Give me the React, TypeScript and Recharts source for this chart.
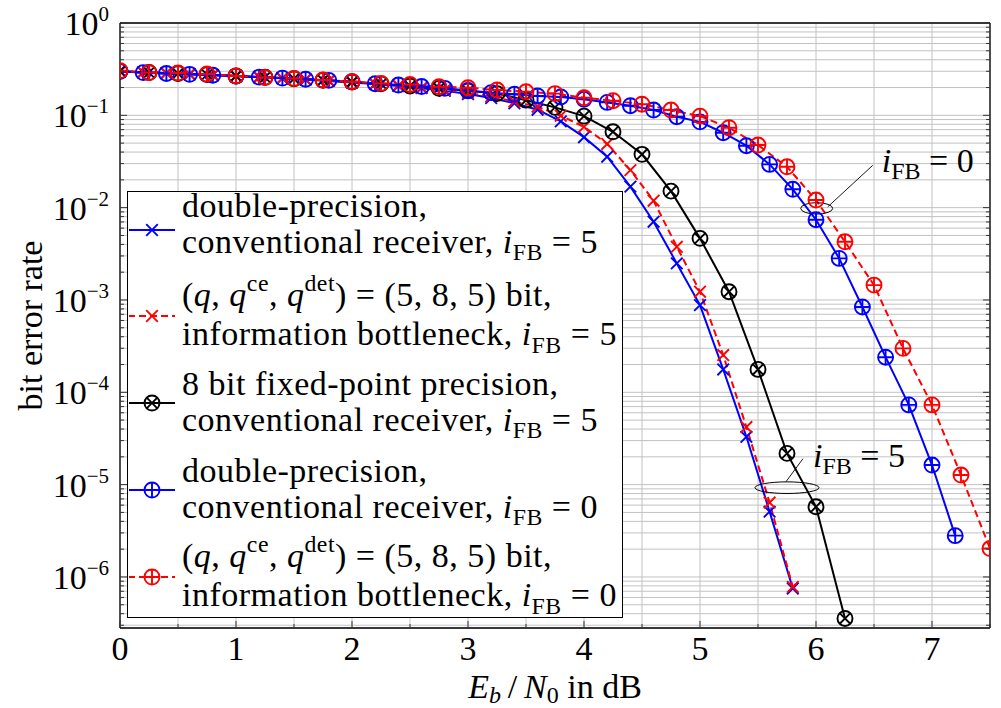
import React from 'react';
import { LineChart, Line, XAxis, YAxis, CartesianGrid, Legend, ReferenceDot } from 'recharts';

const FONT = '"Liberation Serif", "Times New Roman", Times, serif';
const FS = 34;
const BLUE = '#0000ff';
const RED = '#ff0000';
const BLACK = '#000000';
const GRID = '#c2c2c2';

// ---------- axes ----------
const X_TICKS = [0, 0.5, 1, 1.5, 2, 2.5, 3, 3.5, 4, 4.5, 5, 5.5, 6, 6.5, 7, 7.5];
const X_DOMAIN = [0, 7.5];
const Y_DECADES = [-7, -6, -5, -4, -3, -2, -1, 0];
const Y_MANTISSAS = [1, 2, 3, 4, 5, 6, 7, 8, 9];
const Y_MIN = 2.8e-7;
const Y_MAX = 1;
const Y_TICKS = Y_DECADES.flatMap((e) => Y_MANTISSAS.map((m) => m * Math.pow(10, e))).filter(
  (v) => v >= Y_MIN && v <= Y_MAX * 1.000001
);

// ---------- series data ----------
// double-precision, conventional receiver, iFB = 5 (blue, x)
const BX_X = [0, 0.2, 0.4, 0.6, 0.8, 1, 1.2, 1.4, 1.6, 1.8, 2, 2.2, 2.4, 2.6, 2.8, 3, 3.2, 3.4, 3.6, 3.8, 4, 4.2, 4.4, 4.6, 4.8, 5, 5.2, 5.4, 5.6, 5.8];
const BX_Y = [0.3, 0.292, 0.286, 0.279, 0.273, 0.266, 0.259, 0.252, 0.244, 0.236, 0.227, 0.218, 0.208, 0.197, 0.184, 0.17, 0.154, 0.135, 0.115, 0.086, 0.058, 0.0356, 0.0169, 0.00705, 0.00249, 8.8e-4, 1.77e-4, 3.3e-5, 5.1e-6, 7.5e-7];
// (q,qce,qdet) = (5,8,5) bit, information bottleneck, iFB = 5 (red dashed, x)
const RX_X = [0, 0.2, 0.4, 0.6, 0.8, 1, 1.2, 1.4, 1.6, 1.8, 2, 2.2, 2.4, 2.6, 2.8, 3, 3.2, 3.4, 3.6, 3.8, 4, 4.2, 4.4, 4.6, 4.8, 5, 5.2, 5.4, 5.6, 5.8];
const RX_Y = [0.301, 0.293, 0.287, 0.28, 0.274, 0.267, 0.26, 0.253, 0.245, 0.237, 0.229, 0.22, 0.21, 0.2, 0.188, 0.175, 0.16, 0.141, 0.124, 0.099, 0.075, 0.049, 0.0255, 0.0119, 0.00377, 0.00123, 2.53e-4, 4.2e-5, 6.4e-6, 7.8e-7];
// 8 bit fixed-point precision, conventional receiver, iFB = 5 (black, otimes)
const K_X = [0, 0.25, 0.5, 0.75, 1, 1.25, 1.5, 1.75, 2, 2.25, 2.5, 2.75, 3, 3.25, 3.5, 3.75, 4, 4.25, 4.5, 4.75, 5, 5.25, 5.5, 5.75, 6, 6.25];
const K_Y = [0.3, 0.291, 0.284, 0.276, 0.267, 0.258, 0.249, 0.24, 0.23, 0.219, 0.208, 0.196, 0.184, 0.172, 0.146, 0.122, 0.098, 0.0664, 0.0378, 0.0151, 0.00465, 0.00123, 1.77e-4, 2.18e-5, 5.75e-6, 3.55e-7];
// double-precision, conventional receiver, iFB = 0 (blue, oplus)
const BC_X = [0, 0.2, 0.4, 0.6, 0.8, 1, 1.2, 1.4, 1.6, 1.8, 2, 2.2, 2.4, 2.6, 2.8, 3, 3.2, 3.4, 3.6, 3.8, 4, 4.2, 4.4, 4.6, 4.8, 5, 5.2, 5.4, 5.6, 5.8, 6, 6.2, 6.4, 6.6, 6.8, 7, 7.2];
const BC_Y = [0.3, 0.29, 0.284, 0.278, 0.272, 0.266, 0.259, 0.253, 0.246, 0.239, 0.232, 0.22, 0.213, 0.205, 0.196, 0.186, 0.176, 0.169, 0.162, 0.158, 0.149, 0.138, 0.127, 0.114, 0.0966, 0.085, 0.0648, 0.0469, 0.0294, 0.0158, 0.0074, 0.00282, 8.4e-4, 2.4e-4, 7.3e-5, 1.63e-5, 2.8e-6];
// (q,qce,qdet) = (5,8,5) bit, information bottleneck, iFB = 0 (red dashed, oplus)
const RC_X = [0, 0.25, 0.5, 0.75, 1, 1.25, 1.5, 1.75, 2, 2.25, 2.5, 2.75, 3, 3.25, 3.5, 3.75, 4, 4.25, 4.5, 4.75, 5, 5.25, 5.5, 5.75, 6, 6.25, 6.5, 6.75, 7, 7.25, 7.5];
const RC_Y = [0.304, 0.29, 0.287, 0.28, 0.267, 0.257, 0.251, 0.241, 0.231, 0.222, 0.216, 0.204, 0.199, 0.188, 0.18, 0.172, 0.155, 0.144, 0.132, 0.114, 0.098, 0.0734, 0.0477, 0.0277, 0.0121, 0.00427, 0.00145, 2.99e-4, 7.3e-5, 1.27e-5, 2.03e-6];

const SERIES_KIND = ['dp', 'ib', 'fx', 'dp', 'ib'];
const SERIES_FB = ['5', '5', '5', '0', '0'];
const SERIES_COLOR = [BLUE, RED, BLACK, BLUE, RED];
const SERIES_DASH = [undefined, '7 4', undefined, undefined, '7 4'];
const SERIES_MARK = ['x', 'x', 'otimes', 'oplus', 'oplus'];
const SERIES_NAME = [
  'double-precision, conventional receiver, iFB = 5',
  '(q, qce, qdet) = (5, 8, 5) bit, information bottleneck, iFB = 5',
  '8 bit fixed-point precision, conventional receiver, iFB = 5',
  'double-precision, conventional receiver, iFB = 0',
  '(q, qce, qdet) = (5, 8, 5) bit, information bottleneck, iFB = 0',
];
const SERIES_DATA = [
  BX_X.map((x, i) => ({ x, y: BX_Y[i] })),
  RX_X.map((x, i) => ({ x, y: RX_Y[i] })),
  K_X.map((x, i) => ({ x, y: K_Y[i] })),
  BC_X.map((x, i) => ({ x, y: BC_Y[i] })),
  RC_X.map((x, i) => ({ x, y: RC_Y[i] })),
];

// annotations
const ANNOT_FB0 = { x: 6.006, y: 0.00982, label: '0' };
const ANNOT_FB5 = { x: 5.75, y: 9.27e-6, label: '5' };

// ---------- markers ----------
const Marker = ({ cx, cy, color, kind }: any) => {
  if (cx == null || cy == null) return null;
  const sw = 1.9;
  if (kind === 'x') {
    const h = 5.8;
    return (
      <path
        d={`M${cx - h},${cy - h}L${cx + h},${cy + h}M${cx - h},${cy + h}L${cx + h},${cy - h}`}
        stroke={color}
        strokeWidth={sw}
        fill="none"
      />
    );
  }
  const r = 7.5;
  const inner =
    kind === 'oplus'
      ? `M${cx - r},${cy}L${cx + r},${cy}M${cx},${cy - r}L${cx},${cy + r}`
      : `M${cx - r * 0.707},${cy - r * 0.707}L${cx + r * 0.707},${cy + r * 0.707}M${cx - r * 0.707},${cy + r * 0.707}L${cx + r * 0.707},${cy - r * 0.707}`;
  return (
    <g>
      <circle cx={cx} cy={cy} r={r} fill="none" stroke={color} strokeWidth={sw} />
      <path d={inner} stroke={color} strokeWidth={sw} fill="none" />
    </g>
  );
};

// ---------- ticks ----------
const YTick = (props: any) => {
  const { x, y, payload, side } = props;
  const v = payload.value;
  const lg = Math.log10(v);
  const e = Math.round(lg);
  const major = Math.abs(lg - e) < 1e-6;
  const len = major ? 7 : 4;
  const dir = side === 'right' ? -1 : 1;
  return (
    <g>
      <line x1={x} y1={y} x2={x + dir * len} y2={y} stroke="#333" strokeWidth={1} />
      {major && side !== 'right' && (
        <text x={x - 11} y={y + 12} textAnchor="end" fontFamily={FONT} fontSize={FS} fill="#000">
          10
          <tspan dy={-14} fontSize={21}>
            {e === 0 ? '0' : '\u2212' + String(-e)}
          </tspan>
        </text>
      )}
    </g>
  );
};

const XTick = (props: any) => {
  const { x, y, payload, side } = props;
  const v = payload.value;
  const isInt = Math.abs(v - Math.round(v)) < 1e-9;
  const len = isInt ? 7 : 4;
  const dir = side === 'top' ? 1 : -1;
  return (
    <g>
      <line x1={x} y1={y} x2={x} y2={y + dir * len} stroke="#333" strokeWidth={1} />
      {isInt && side !== 'top' && (
        <text x={x} y={y + 32} textAnchor="middle" fontFamily={FONT} fontSize={FS} fill="#000">
          {String(Math.round(v))}
        </text>
      )}
    </g>
  );
};

const YLabel = (props: any) => {
  const vb = props.viewBox || { x: 10, y: 23, width: 110, height: 605 };
  const cx = vb.x + 32;
  const cy = vb.y + vb.height / 2;
  return (
    <text x={cx} y={cy} transform={`rotate(-90, ${cx}, ${cy})`} textAnchor="middle" fontFamily={FONT} fontSize={FS} fill="#000">
      bit error rate
    </text>
  );
};

const XLabel = (props: any) => {
  const vb = props.viewBox || { x: 120, y: 628, width: 870, height: 60 };
  const cx = vb.x + vb.width / 2;
  const y = vb.y + 70;
  return (
    <text x={cx} y={y} textAnchor="middle" fontFamily={FONT} fontSize={FS} fill="#000">
      <tspan fontStyle="italic">E</tspan>
      <tspan fontStyle="italic" fontSize={24} dy={5}>b</tspan>
      <tspan dy={-5}>{'\u2009/\u2009'}</tspan>
      <tspan fontStyle="italic">N</tspan>
      <tspan fontSize={24} dy={5}>0</tspan>
      <tspan dy={-5}> in dB</tspan>
    </text>
  );
};

// ---------- legend ----------
const Sub = ({ children }: any) => (
  <span style={{ fontSize: '0.7em', position: 'relative', top: '0.32em' }}>{children}</span>
);
const Sup = ({ children }: any) => (
  <span style={{ fontSize: '0.7em', position: 'relative', top: '-0.62em' }}>{children}</span>
);
const IFB = ({ v }: any) => (
  <>
    <i>i</i>
    <Sub>FB</Sub> = {v}
  </>
);

const legendLines = (kind: string, fb: string) => {
  if (kind === 'dp')
    return [
      <>double-precision,</>,
      <>
        conventional receiver, <IFB v={fb} />
      </>,
    ];
  if (kind === 'fx')
    return [
      <>8 bit fixed-point precision,</>,
      <>
        conventional receiver, <IFB v={fb} />
      </>,
    ];
  return [
    <>
      (<i>q</i>, <i>q</i>
      <Sup>ce</Sup>, <i>q</i>
      <Sup>det</Sup>) = (5, 8, 5) bit,
    </>,
    <>
      information bottleneck, <IFB v={fb} />
    </>,
  ];
};

const LegendBox = () => (
  <div
    style={{
      width: 496,
      height: 427,
      boxSizing: 'border-box',
      border: '1.3px solid #000',
      background: '#fff',
      fontFamily: FONT,
      fontSize: FS,
      letterSpacing: '0.5px',
      color: '#000',
      paddingTop: 0,
    }}
  >
    {SERIES_KIND.map((kind, i) => {
      const lines = legendLines(kind, SERIES_FB[i]);
      return (
        <div key={i} style={{ display: 'flex', alignItems: 'center', height: 72, marginBottom: i < 4 ? 15 : 0, marginTop: i === 0 ? 1 : 0 }}>
          <svg width={46} height={24} style={{ marginLeft: 1, marginRight: 7, flex: 'none', marginTop: i === 0 ? 2 : 0 }}>
            <line x1={0} y1={12} x2={46} y2={12} stroke={SERIES_COLOR[i]} strokeWidth={2} strokeDasharray={SERIES_DASH[i]} strokeDashoffset={SERIES_DASH[i] ? 1 : 0} />
            <Marker cx={23} cy={12} color={SERIES_COLOR[i]} kind={SERIES_MARK[i]} />
          </svg>
          <div style={{ lineHeight: '36px', whiteSpace: 'nowrap', position: 'relative', top: i === 0 ? -4 : 0 }}>
            <div>{lines[0]}</div>
            <div>{lines[1]}</div>
          </div>
        </div>
      );
    })}
  </div>
);

// ---------- annotation ----------
const Annotation = ({ cx, cy, rx, ry, lx1, ly1, lx2, ly2, tx, ty, label }: any) => {
  if (cx == null || cy == null) return null;
  return (
    <g>
      <ellipse cx={cx} cy={cy} rx={rx} ry={ry} fill="none" stroke="#000" strokeWidth={1} />
      <line x1={cx + lx1} y1={cy + ly1} x2={cx + lx2} y2={cy + ly2} stroke="#000" strokeWidth={0.9} />
      <text x={cx + tx} y={cy + ty} fontFamily={FONT} fontSize={FS} fill="#000">
        <tspan fontStyle="italic">i</tspan>
        <tspan fontSize={24} dy={7}>FB</tspan>
        <tspan dy={-7}>{' = ' + label}</tspan>
      </text>
    </g>
  );
};

export default function App() {
  return (
    <div style={{ position: 'absolute', left: 0, top: 0, width: 1001, height: 708, background: '#fff' }}>
      <LineChart width={1001} height={708} margin={{ top: 22, right: 10, bottom: 20, left: 10 }}>
        <CartesianGrid stroke={GRID} strokeWidth={1} />
        <XAxis
          type="number"
          dataKey="x"
          domain={X_DOMAIN}
          ticks={X_TICKS}
          interval={0}
          allowDataOverflow
          height={60}
          tickSize={0}
          tickMargin={0}
          tickLine={false}
          axisLine={{ stroke: '#000', strokeWidth: 1.3 }}
          tick={<XTick side="bottom" />}
          label={{ content: (p: any) => <XLabel {...p} /> }}
        />
        <XAxis
          xAxisId="top"
          orientation="top"
          type="number"
          domain={X_DOMAIN}
          ticks={X_TICKS}
          interval={0}
          allowDataOverflow
          height={1}
          tickSize={0}
          tickMargin={0}
          tickLine={false}
          axisLine={{ stroke: '#000', strokeWidth: 1.3 }}
          tick={<XTick side="top" />}
        />
        <YAxis
          type="number"
          scale="log"
          domain={[Y_MIN, Y_MAX]}
          ticks={Y_TICKS}
          interval={0}
          allowDataOverflow
          width={110}
          tickSize={0}
          tickMargin={0}
          tickLine={false}
          axisLine={{ stroke: '#000', strokeWidth: 1.3 }}
          tick={<YTick side="left" />}
          label={{ content: (p: any) => <YLabel {...p} /> }}
        />
        <YAxis
          yAxisId="right"
          orientation="right"
          type="number"
          scale="log"
          domain={[Y_MIN, Y_MAX]}
          ticks={Y_TICKS}
          interval={0}
          allowDataOverflow
          width={1}
          tickSize={0}
          tickMargin={0}
          tickLine={false}
          axisLine={{ stroke: '#000', strokeWidth: 1.3 }}
          tick={<YTick side="right" />}
        />
        <Legend
          layout="vertical"
          align="center"
          verticalAlign="middle"
          wrapperStyle={{ left: 127, top: 191, width: 496, height: 427, margin: 0, padding: 0 }}
          content={() => <LegendBox />}
        />
        {SERIES_DATA.map((d, i) => (
          <Line
            key={i}
            data={d}
            dataKey="y"
            name={SERIES_NAME[i]}
            type="linear"
            stroke={SERIES_COLOR[i]}
            strokeWidth={2}
            strokeDasharray={SERIES_DASH[i]}
            isAnimationActive={false}
            dot={(p: any) => <Marker key={`m-${i}-${p.index}`} cx={p.cx} cy={p.cy} color={SERIES_COLOR[i]} kind={SERIES_MARK[i]} />}
            activeDot={false}
          />
        ))}
        <ReferenceDot
          x={ANNOT_FB0.x}
          y={ANNOT_FB0.y}
          ifOverflow="visible"
          shape={(p: any) => (
            <Annotation cx={p.cx} cy={p.cy} rx={16} ry={5.7} lx1={11} ly1={-1.5} lx2={56} ly2={-43} tx={65} ty={-36} label={ANNOT_FB0.label} />
          )}
        />
        <ReferenceDot
          x={ANNOT_FB5.x}
          y={ANNOT_FB5.y}
          ifOverflow="visible"
          shape={(p: any) => (
            <Annotation cx={p.cx} cy={p.cy} rx={32} ry={5.8} lx1={-1} ly1={-6} lx2={16} ly2={-29} tx={26} ty={-21} label={ANNOT_FB5.label} />
          )}
        />
      </LineChart>
    </div>
  );
}
